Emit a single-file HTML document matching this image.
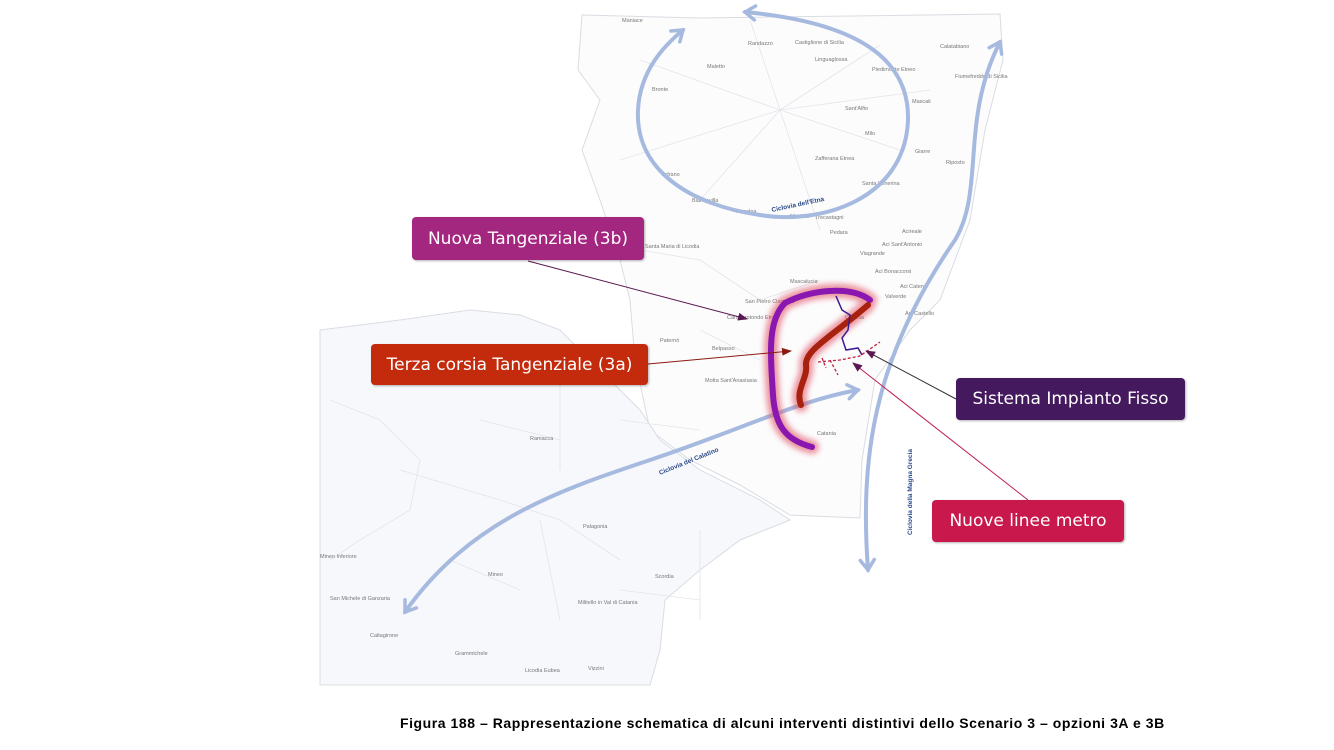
<!DOCTYPE html>
<html><head><meta charset="utf-8"><style>
body{margin:0;background:#fff;width:1334px;height:750px;overflow:hidden;font-family:"Liberation Sans",sans-serif}
.box{position:absolute;color:#fff;font-family:"DejaVu Sans","Liberation Sans",sans-serif;font-size:17px;border-radius:4px;display:flex;align-items:center;justify-content:center;box-shadow:1px 1px 2px rgba(0,0,0,.3)}
.cap{position:absolute;left:400px;top:715px;font-size:14px;letter-spacing:0.55px;font-weight:bold;color:#000;white-space:nowrap}
</style></head><body>
<svg width="1334" height="750" style="position:absolute;left:0;top:0" font-family="Liberation Sans,sans-serif">
<defs>
<filter id="g" x="-20%" y="-20%" width="140%" height="140%"><feGaussianBlur stdDeviation="3"/></filter>
<marker id="a" markerUnits="userSpaceOnUse" markerWidth="18" markerHeight="18" refX="12" refY="9" orient="auto-start-reverse"><path d="M2,2 L12,9 L2,16" fill="none" stroke="#a6b9df" stroke-width="3.5" stroke-linecap="round"/></marker>
<marker id="d" markerUnits="userSpaceOnUse" markerWidth="10" markerHeight="8" refX="9" refY="4" orient="auto"><path d="M0,0 L10,4 L0,8z" fill="#5a1850"/></marker>
<marker id="r" markerUnits="userSpaceOnUse" markerWidth="10" markerHeight="8" refX="9" refY="4" orient="auto"><path d="M0,0 L10,4 L0,8z" fill="#8b1a10"/></marker>
</defs>
<g fill="#fcfcfd" stroke="#d9dce2" stroke-width="1">
<path d="M582,15 L700,18 L1000,14 L1003,60 L985,130 L970,220 L940,300 L910,330 L875,380 L862,460 L860,518 L790,515 L740,485 L690,460 L650,430 L635,360 L630,300 L620,260 L600,200 L582,150 L600,100 L578,70 Z"/>
<path d="M320,330 L400,320 L470,310 L520,315 L560,330 L610,380 L640,410 L660,440 L700,470 L760,500 L790,520 L740,540 L700,570 L665,600 L660,650 L650,685 L320,685 Z" fill="#f7f8fb"/>
</g>
<g fill="none" stroke="#e3e5ea" stroke-width="0.8">
<path d="M780,110 L640,60 M780,110 L700,200 M780,110 L880,45 M780,110 L900,150 M780,110 L820,230 M780,110 L750,20 M780,110 L620,160 M780,110 L930,90"/>
<path d="M640,250 L700,260 L760,300 L820,280 M700,330 L760,360 M620,420 L700,430 M400,470 L500,500 L560,520 L620,560 M450,560 L520,590 M540,520 L560,620 M620,590 L700,600 M700,530 L700,620"/>
<path d="M330,400 L380,420 L420,460 L410,510 L360,540 L330,560 M560,380 L560,470 M480,420 L560,440"/>
</g>
<g font-size="5.5" fill="#777">
<text x="622" y="22">Maniace</text><text x="748" y="45">Randazzo</text><text x="795" y="44">Castiglione di Sicilia</text>
<text x="940" y="48">Calatabiano</text><text x="815" y="61">Linguaglossa</text><text x="872" y="71">Piedimonte Etneo</text>
<text x="955" y="78">Fiumefreddo di Sicilia</text><text x="707" y="68">Maletto</text><text x="652" y="91">Bronte</text>
<text x="912" y="103">Mascali</text><text x="845" y="110">Sant'Alfio</text><text x="865" y="135">Milo</text>
<text x="915" y="153">Giarre</text><text x="946" y="164">Riposto</text><text x="815" y="160">Zafferana Etnea</text>
<text x="862" y="185">Santa Venerina</text><text x="662" y="176">Adrano</text><text x="692" y="202">Biancavilla</text>
<text x="736" y="213">Ragalna</text><text x="790" y="218">Nicolosi</text><text x="815" y="219">Trecastagni</text>
<text x="830" y="234">Pedara</text><text x="645" y="248">Santa Maria di Licodia</text><text x="902" y="233">Acireale</text>
<text x="882" y="246">Aci Sant'Antonio</text><text x="860" y="255">Viagrande</text><text x="875" y="273">Aci Bonaccorsi</text>
<text x="790" y="283">Mascalucia</text><text x="900" y="288">Aci Catena</text><text x="885" y="298">Valverde</text>
<text x="745" y="303">San Pietro Clarenza</text><text x="727" y="319">Camporotondo Etneo</text><text x="845" y="319">Catania</text>
<text x="905" y="315">Aci Castello</text><text x="660" y="342">Paternò</text><text x="712" y="350">Belpasso</text>
<text x="705" y="382">Motta Sant'Anastasia</text><text x="817" y="435">Catania</text><text x="530" y="440">Ramacca</text>
<text x="583" y="528">Palagonia</text><text x="320" y="558">Mineo Inferiore</text><text x="488" y="576">Mineo</text>
<text x="655" y="578">Scordia</text><text x="330" y="600">San Michele di Ganzaria</text><text x="578" y="604">Militello in Val di Catania</text>
<text x="370" y="637">Caltagirone</text><text x="455" y="655">Grammichele</text><text x="525" y="672">Licodia Eubea</text><text x="588" y="670">Vizzini</text>
</g>
<g fill="none" stroke="#a6b9df" stroke-width="4" stroke-linecap="round" marker-end="url(#a)">
<path d="M760,215 C820,225 905,200 908,120 C910,45 830,20 745,12"/>
<path d="M760,215 C690,205 635,170 638,110 C640,70 665,45 683,30"/>
<path d="M868,570 C860,460 872,360 955,240 C985,190 960,120 1000,42" marker-start="url(#a)"/>
<path d="M405,612 C470,520 560,490 650,460 C740,430 800,400 858,390" marker-start="url(#a)"/>
</g>
<g font-size="6.5" font-weight="bold" fill="#2a4a8a">
<text x="772" y="212" transform="rotate(-12 772 212)">Ciclovia dell'Etna</text>
<text x="660" y="475" transform="rotate(-22 660 475)">Ciclovia del Calatino</text>
<text x="912" y="535" transform="rotate(-90 912 535)">Ciclovia della Magna Grecia</text>
</g>
<g fill="none" stroke-linecap="round" filter="url(#g)" stroke="#e05060" stroke-width="14" opacity="0.6">
<path d="M812,447 C785,440 775,425 773,395 C770,350 768,320 785,303 C810,290 850,285 870,300"/>
<path d="M801,405 C795,390 808,378 806,365 C805,350 830,338 868,305"/>
</g>
<path d="M812,447 C785,440 775,425 773,395 C770,350 768,320 785,303 C810,290 850,285 870,300" fill="none" stroke="#8a18b0" stroke-width="6" stroke-linecap="round"/>
<path d="M801,405 C795,390 808,378 806,365 C805,350 830,338 868,305" fill="none" stroke="#a8200e" stroke-width="6" stroke-linecap="round"/>
<path d="M836,296 L842,310 L850,315 L848,330 L842,338 L846,350 L858,348 L862,355" fill="none" stroke="#3a1a90" stroke-width="1.5"/>
<path d="M818,362 L840,360 L860,356 L880,342 M830,360 L838,375 M822,358 L826,368" fill="none" stroke="#c02040" stroke-width="1.3" stroke-dasharray="3,2"/>
<line x1="528" y1="261" x2="747" y2="319" stroke="#5a1850" stroke-width="1" marker-end="url(#d)"/>
<line x1="648" y1="364" x2="791" y2="351" stroke="#8b1a10" stroke-width="1" marker-end="url(#r)"/>
<line x1="956" y1="399" x2="866" y2="351" stroke="#333" stroke-width="1" marker-end="url(#d)"/>
<line x1="1028" y1="500" x2="853" y2="363" stroke="#c02050" stroke-width="1" marker-end="url(#d)"/>
</svg>
<div class="box" style="left:412px;top:217px;width:232px;height:43px;background:#a3267f">Nuova Tangenziale (3b)</div>
<div class="box" style="left:371px;top:344px;width:277px;height:41px;background:#c42a0c">Terza corsia Tangenziale (3a)</div>
<div class="box" style="left:956px;top:378px;width:229px;height:42px;background:#44195e">Sistema Impianto Fisso</div>
<div class="box" style="left:932px;top:500px;width:192px;height:42px;background:#c8184c">Nuove linee metro</div>
<div class="cap">Figura 188 – Rappresentazione schematica di alcuni interventi distintivi dello Scenario 3 – opzioni 3A e 3B</div>
</body></html>
